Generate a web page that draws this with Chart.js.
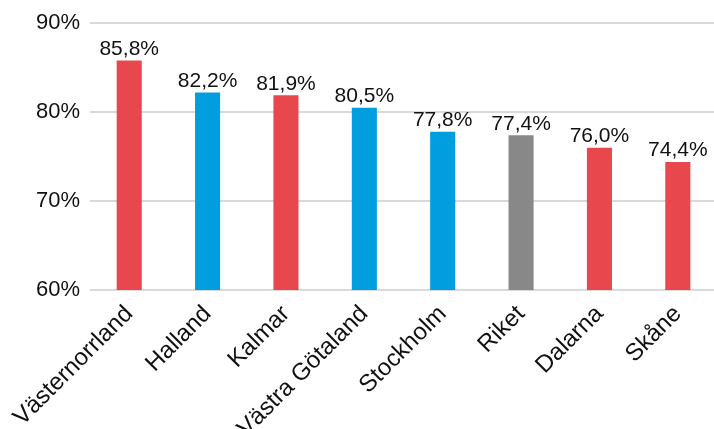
<!DOCTYPE html>
<html>
<head>
<meta charset="utf-8">
<script src="https://cdn.jsdelivr.net/npm/chart.js@4"></script>
<style>
  html, body { margin: 0; padding: 0; background: #fff; overflow: hidden; }
  #wrap { width: 717px; height: 445px; }
</style>
</head>
<body>
<div id="wrap"><canvas id="chart-lan"></canvas></div>
<script>
const regioner = ['Västernorrland', 'Halland', 'Kalmar', 'Västra Götaland', 'Stockholm', 'Riket', 'Dalarna', 'Skåne'];
const andel = [85.8, 82.2, 81.9, 80.5, 77.8, 77.4, 76.0, 74.4];
const farger = ['#e8484d', '#009ede', '#e8484d', '#009ede', '#009ede', '#888888', '#e8484d', '#e8484d'];
const yTicks = [60, 70, 80, 90];

const FONT = '"Liberation Sans", Arial, Helvetica, sans-serif';

// skriver värdet ovanför varje stapel
const vardeEtiketter = {
  id: 'vardeEtiketter',
  afterDatasetsDraw(chart) {
    const ctx = chart.ctx;
    const meta = chart.getDatasetMeta(0);
    ctx.save();
    ctx.font = '21px ' + FONT;
    ctx.fillStyle = '#111';
    ctx.textAlign = 'center';
    ctx.textBaseline = 'bottom';
    meta.data.forEach((bar, i) => {
      const txt = andel[i].toFixed(1).replace('.', ',') + '%';
      ctx.fillText(txt, bar.x, bar.y - 1);
    });
    ctx.restore();
  }
};

const ctxLan = document.getElementById('chart-lan').getContext('2d');
new Chart(ctxLan, {
  type: 'bar',
  data: {
    labels: regioner,
    datasets: [{
      label: 'Andel',
      data: andel,
      backgroundColor: farger,
      categoryPercentage: 1,
      barPercentage: 0.32
    }]
  },
  options: {
    responsive: true,
    maintainAspectRatio: false,
    animation: false,
    layout: { padding: { top: 20, left: 26, right: 0, bottom: 0 } },
    plugins: {
      legend: { display: false },
      tooltip: { enabled: false }
    },
    scales: {
      x: {
        grid: { display: false },
        border: { display: false },
        ticks: {
          color: '#111',
          font: { family: FONT, size: 24 },
          minRotation: 45,
          maxRotation: 45,
          padding: 2
        }
      },
      y: {
        min: yTicks[0],
        max: yTicks[yTicks.length - 1],
        afterBuildTicks(axis) { axis.ticks = yTicks.map(v => ({ value: v })); },
        grid: { color: '#d9d9d9', lineWidth: 2, drawTicks: false },
        border: { display: false },
        ticks: {
          color: '#111',
          font: { family: FONT, size: 22 },
          padding: 10,
          callback: v => v + '%'
        }
      }
    }
  },
  plugins: [vardeEtiketter]
});
</script>
</body>
</html>
